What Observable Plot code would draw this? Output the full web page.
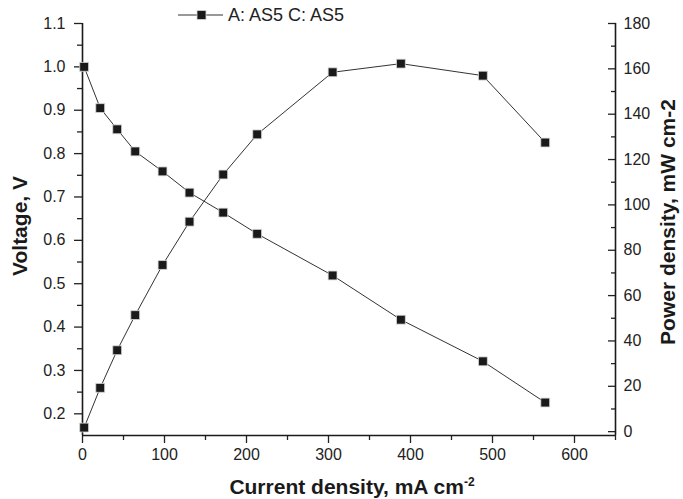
<!DOCTYPE html>
<html>
<head>
<meta charset="utf-8">
<script src="https://cdn.jsdelivr.net/npm/d3@7"></script>
<script src="https://cdn.jsdelivr.net/npm/@observablehq/plot@0.6"></script>
<style>
  html, body { margin: 0; padding: 0; background: #fff; }
  #chart svg { display: block; }
</style>
</head>
<body>
<div id="chart"></div>
<script>
// ---- data ----
const current = [2, 21.6, 42.3, 64.3, 97.6, 130.5, 171.6, 213, 305, 388.3, 488.3, 564.3];
const voltage = [1.0, 0.905, 0.856, 0.805, 0.759, 0.710, 0.664, 0.615, 0.519, 0.417, 0.321, 0.226];
const power   = [1.8, 19.3, 35.9, 51.4, 73.5, 92.6, 113.4, 131.1, 158.5, 162.3, 157.0, 127.5];

const xTicks = [0, 100, 200, 300, 400, 500, 600];
const xMinor = [50, 150, 250, 350, 450, 550, 650];
const vTicks = [0.2, 0.3, 0.4, 0.5, 0.6, 0.7, 0.8, 0.9, 1.0, 1.1];
const vMinor = [0.25, 0.35, 0.45, 0.55, 0.65, 0.75, 0.85, 0.95, 1.05];
const pTicks = [0, 20, 40, 60, 80, 100, 120, 140, 160, 180];
const pMinor = [10, 30, 50, 70, 90, 110, 130, 150, 170];

const xLabel = "Current density, mA cm";
const xLabelSup = "-2";
const yLabel = "Voltage, V";
const y2Label = "Power density, mW cm-2";
const seriesName = "A: AS5 C: AS5";

// ---- scales ----
const xDomain = [0, 650];
const vDomain = [0.15, 1.1];
const pDomain = [-1.7, 180];
const p2v = p => vDomain[0] + (p - pDomain[0]) * (vDomain[1] - vDomain[0]) / (pDomain[1] - pDomain[0]);
const v2p = v => pDomain[0] + (v - vDomain[0]) * (pDomain[1] - pDomain[0]) / (vDomain[1] - vDomain[0]);

const data = current.map((c, i) => ({c, v: voltage[i], p: power[i], pv: p2v(power[i])}));

const W = 683, H = 499;
const mL = 82, mR = 68, mT = 23, mB = 64;
const ink = "#1a1a1a";
const font = "'Liberation Sans', Arial, Helvetica, sans-serif";

const chart = Plot.plot({
  width: W, height: H,
  marginLeft: mL, marginRight: mR, marginTop: mT, marginBottom: mB,
  x: {domain: xDomain},
  y: {domain: vDomain},
  style: {fontFamily: font, fontSize: "16px", color: "#222", background: "#fff"},
  marks: [
    Plot.axisX(xTicks, {tickSize: 8, tickPadding: 5, label: null, fontSize: 16, strokeWidth: 1.3}),
    Plot.axisX(xMinor, {tickSize: 5, tickFormat: () => "", label: null, strokeWidth: 1.3}),
    Plot.axisY(vTicks, {tickSize: 8, tickPadding: 9, tickFormat: d3.format(".1f"), label: null, fontSize: 16, strokeWidth: 1.3}),
    Plot.axisY(vMinor, {tickSize: 5, tickFormat: () => "", label: null, strokeWidth: 1.3}),
    Plot.axisY(pTicks.map(p2v), {anchor: "right", tickSize: -8, tickPadding: 16, tickFormat: v => String(Math.round(v2p(v))), label: null, fontSize: 16, strokeWidth: 1.3}),
    Plot.axisY(pMinor.map(p2v), {anchor: "right", tickSize: -5, tickFormat: () => "", label: null, strokeWidth: 1.3}),
    Plot.ruleX([xDomain[0], xDomain[1]], {stroke: ink, strokeWidth: 1.6}),
    Plot.ruleY([vDomain[0]], {stroke: ink, strokeWidth: 1.6}),
    Plot.line(data, {x: "c", y: "v", stroke: "#333", strokeWidth: 1}),
    Plot.line(data, {x: "c", y: "pv", stroke: "#333", strokeWidth: 1}),
    Plot.dot(data, {x: "c", y: "v", symbol: "square", r: 5, fill: ink, stroke: "#d8d8d8", strokeWidth: 0.8}),
    Plot.dot(data, {x: "c", y: "pv", symbol: "square", r: 5, fill: ink, stroke: "#d8d8d8", strokeWidth: 0.8})
  ]
});

document.getElementById("chart").appendChild(chart);

// ---- axis titles & legend ----
const svg = d3.select(chart);

const xt = svg.append("text")
  .attr("x", 352).attr("y", 494)
  .attr("text-anchor", "middle")
  .attr("font-family", font).attr("font-weight", "bold").attr("font-size", 21)
  .attr("fill", ink);
xt.append("tspan").text(xLabel);
xt.append("tspan").attr("dy", -8).attr("font-size", 12).text(xLabelSup);

svg.append("text")
  .attr("transform", "translate(27,226) rotate(-90)")
  .attr("text-anchor", "middle")
  .attr("font-family", font).attr("font-weight", "bold").attr("font-size", 21)
  .attr("fill", ink)
  .text(yLabel);

svg.append("text")
  .attr("transform", "translate(675,222) rotate(-90)")
  .attr("text-anchor", "middle")
  .attr("font-family", font).attr("font-weight", "bold").attr("font-size", 21)
  .attr("fill", ink)
  .text(y2Label);

const lg = svg.append("g");
lg.append("line").attr("x1", 178).attr("x2", 223).attr("y1", 15).attr("y2", 15)
  .attr("stroke", "#333").attr("stroke-width", 1);
lg.append("rect").attr("x", 197).attr("y", 10.5).attr("width", 9).attr("height", 9)
  .attr("fill", ink).attr("stroke", "#d8d8d8").attr("stroke-width", 0.8);
lg.append("text").attr("x", 228).attr("y", 21)
  .attr("text-anchor", "start")
  .attr("font-family", font).attr("font-size", 18).attr("fill", "#222")
  .text(seriesName);
</script>
</body>
</html>
